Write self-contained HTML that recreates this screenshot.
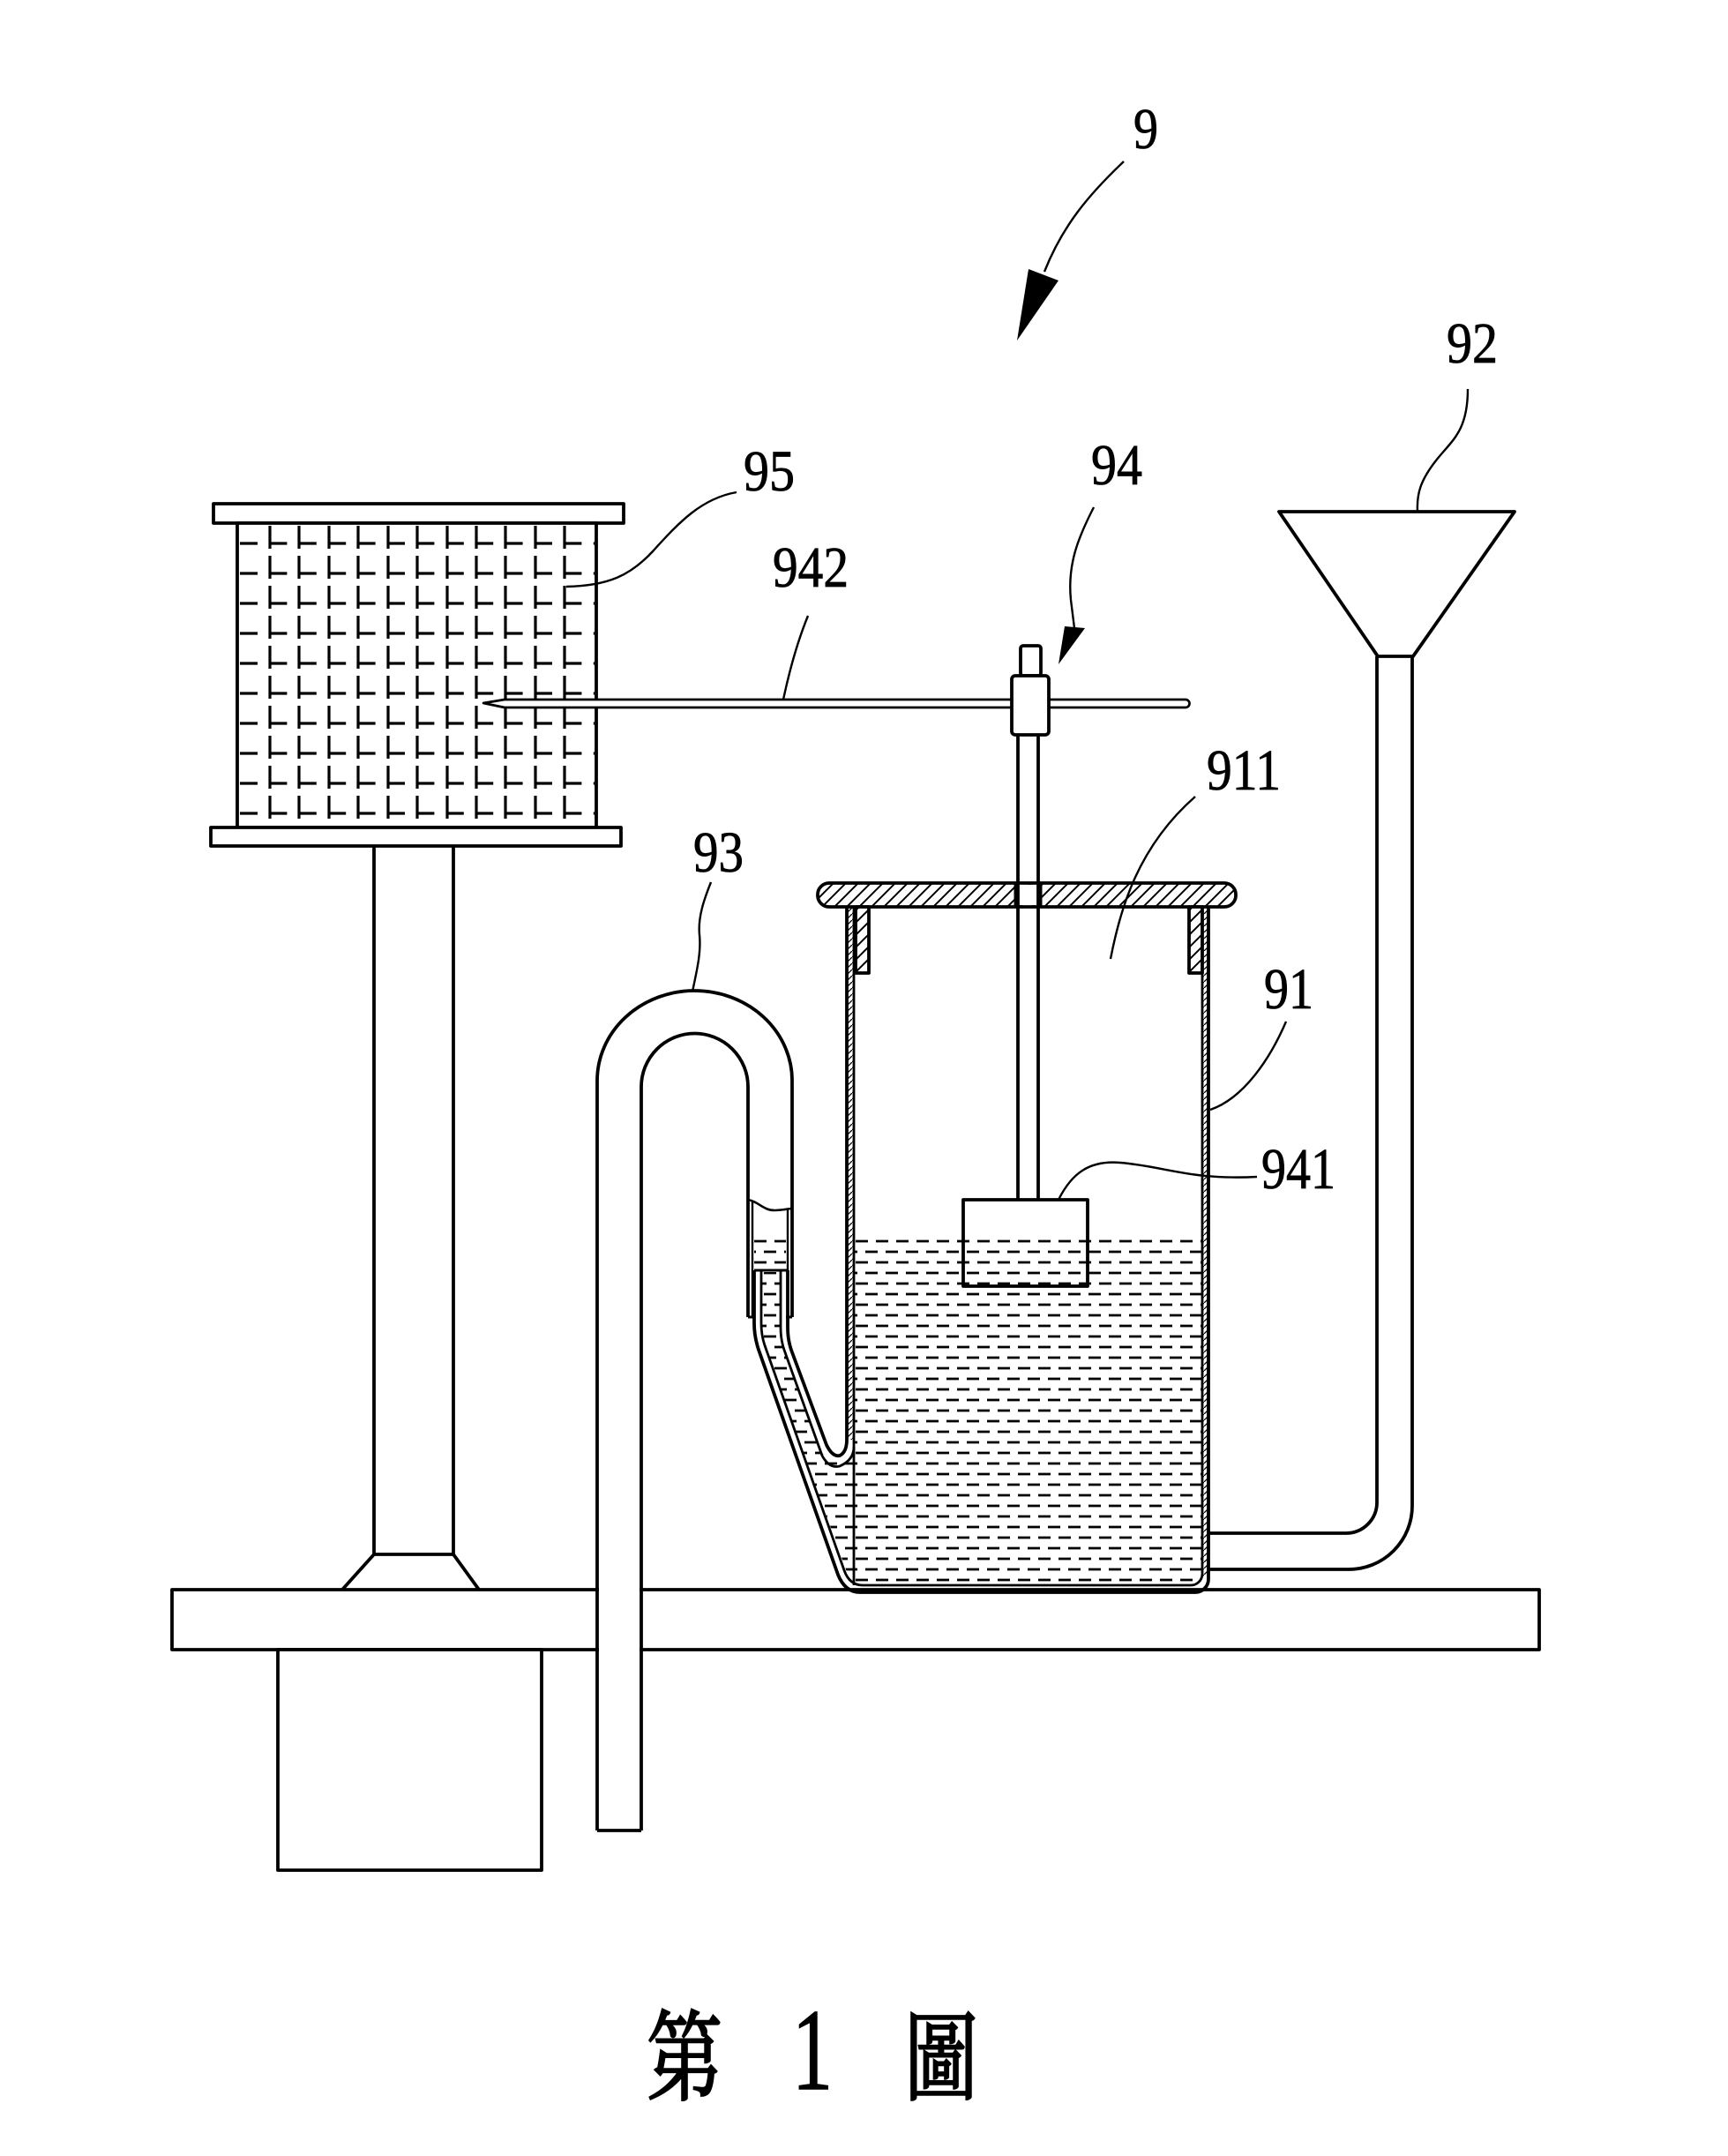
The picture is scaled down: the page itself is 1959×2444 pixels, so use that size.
<!DOCTYPE html>
<html>
<head>
<meta charset="utf-8">
<style>
html,body{margin:0;padding:0;background:#fff;}
body{width:1959px;height:2444px;overflow:hidden;}
svg{position:absolute;left:0;top:0;}
text{font-family:"Liberation Serif",serif;fill:#000;}
.cjk{font-family:"Liberation Serif","Noto Serif CJK SC","Noto Sans CJK TC",serif;}
</style>
</head>
<body>
<svg width="1959" height="2444" viewBox="0 0 1959 2444" xmlns="http://www.w3.org/2000/svg">
<defs>
  <pattern id="hatch" x="0" y="0" width="14" height="14" patternUnits="userSpaceOnUse">
    <rect width="14" height="14" fill="#fff"/>
    <path d="M-2,2 L2,-2 M0,14 L14,0 M12,16 L16,12" stroke="#000" stroke-width="2"/>
  </pattern>
  <pattern id="hatchs" x="0" y="0" width="7" height="7" patternUnits="userSpaceOnUse">
    <rect width="7" height="7" fill="#fff"/>
    <path d="M0,7 L7,0" stroke="#000" stroke-width="1.3"/>
  </pattern>
  <pattern id="liq" x="970" y="1401" width="46" height="24" patternUnits="userSpaceOnUse">
    <path d="M0 6h14M23 6h14M11 18h14M34 18h12M0 18h2" stroke="#000" stroke-width="2.8"/>
  </pattern>
</defs>

<g fill="none" stroke="#000" stroke-width="3.8" stroke-linejoin="round">

<!-- ===== Coil 95 ===== -->
<rect x="242" y="571" width="465" height="22" fill="#fff"/>
<rect x="269" y="593" width="407" height="345" fill="#fff"/>
<rect x="239" y="938" width="465" height="21" fill="#fff"/>
<g stroke-width="3.2" stroke-dasharray="20 13.4">
  <path d="M272,616H674M272,650H674M272,684H674M272,718H674M272,752H674M272,786H674M272,820H674M272,854H674M272,888H674M272,922H674"/>
</g>
<g stroke-width="3.2" stroke-dasharray="26 8">
  <path d="M306,596V936M339,596V936M373,596V936M406,596V936M440,596V936M473,596V936M507,596V936M540,596V936M573,596V936M607,596V936M640,596V936"/>
</g>

<!-- pole -->
<path d="M424,959V1762M514,959V1762M424,1762H514M424,1762L388,1802M514,1762L543,1802"/>

<!-- base plate -->
<rect x="195" y="1802" width="1550" height="68" fill="#fff"/>
<!-- box -->
<rect x="315" y="1870" width="299" height="250" fill="#fff"/>

<!-- ===== Needle 942 / clamp 94 ===== -->
<path d="M548,797 L572,793 H1147 V802 H572 Z" fill="#fff" stroke-width="2.7"/>
<path d="M1189,793 H1344 A4.5,4.5 0 0 1 1344,802 H1189" fill="#fff" stroke-width="2.7"/>
<rect x="1157" y="732" width="23" height="34" rx="3" fill="#fff"/>
<rect x="1147" y="766" width="42" height="67" rx="4" fill="#fff"/>
<!-- shaft -->
<path d="M1154,833V1360M1177,833V1360"/>

<!-- ===== Funnel 92 ===== -->
<path d="M1450,580 H1717 L1602,744 H1562 Z" fill="#fff"/>
<path d="M1561,744 V1703 A35,35 0 0 1 1526,1738 H1370"/>
<path d="M1601,744 V1707 A72,72 0 0 1 1529,1779 H1370"/>

<!-- ===== Liquid ===== -->
<rect x="969" y="1400" width="393" height="396" fill="url(#liq)" stroke="none"/>
<path d="M864,1442 H884 V1505 L889,1530 L931,1648 L969,1652 V1796 L976,1796 L960,1782 L868,1528 L864,1505 Z" fill="url(#liq)" stroke="none"/>
<rect x="855" y="1400" width="36" height="40" fill="url(#liq)" stroke="none"/>

<!-- ===== Container 91 ===== -->
<rect x="961" y="1028" width="6" height="604" fill="url(#hatchs)" stroke="none"/>
<rect x="1364" y="1028" width="5" height="760" fill="url(#hatchs)" stroke="none"/>
<path d="M893,1440 V1505 Q893,1520 898,1533 L937,1638 Q944,1652 952,1650 Q960,1646 960,1632 V1028"/>
<path d="M885,1440 V1505 Q885,1520 890,1533 L932,1650 Q940,1665 952,1662 Q968,1655 968,1640" stroke-width="2.8"/>
<path d="M968,1028 V1797" stroke-width="2.8"/>
<path d="M855,1440 V1500 Q855,1515 860,1530 L950,1785 Q958,1805 975,1805 H1355 A15,15 0 0 0 1370,1790 V1028"/>
<path d="M863,1440 V1500 Q863,1515 868,1528 L957,1780 Q963,1797 978,1797 H1350 A13,13 0 0 0 1363,1784 V1028" stroke-width="2.8"/>
<path d="M855,1440 H893" stroke-width="3"/>

<!-- lid -->
<rect x="927" y="1001" width="474" height="27" rx="13" fill="url(#hatch)"/>
<rect x="970" y="1028" width="15" height="75" fill="url(#hatch)"/>
<rect x="1348" y="1028" width="15" height="75" fill="url(#hatch)"/>
<rect x="1152" y="1003" width="27" height="23" fill="#fff" stroke="none"/>
<path d="M1151,1001V1028M1180,1001V1028" stroke-width="3"/>
<path d="M1154,999V1030M1177,999V1030"/>

<!-- float 941 -->
<rect x="1092" y="1360" width="141" height="98"/>

<!-- ===== Siphon 93 ===== -->
<rect x="679" y="1795" width="46" height="80" fill="#fff" stroke="none"/>
<path d="M677,2075 V1225 A110.5,102 0 0 1 898,1225 V1493"/>
<path d="M848,1493 V1232 A60.5,60.5 0 0 0 727,1232 V2075"/>
<path d="M677,2075 H727"/>
<path d="M853,1362 V1493 M893,1371 V1493" stroke-width="2.4"/>
<path d="M848,1493 H855 M891,1493 H898" stroke-width="3"/>
<path d="M848,1360 C860,1362 865,1372 878,1372 C888,1372 893,1370 898,1370" stroke-width="2.6"/>

<!-- ===== Leaders ===== -->
<g stroke-width="2.4">
  <path d="M1274,183 C1235,220 1205,255 1184,308"/>
  <path d="M1240,575 C1222,610 1210,640 1214,680 L1218,712"/>
  <path d="M1664,441 C1664,490 1645,500 1628,522 C1610,545 1606,560 1607,580"/>
  <path d="M642,665 C690,664 715,652 740,625 C770,592 795,565 835,558"/>
  <path d="M888,793 C895,760 905,725 916,698"/>
  <path d="M1259,1087 C1270,1030 1290,960 1355,903"/>
  <path d="M785,1124 C790,1100 795,1080 793,1060 C791,1040 798,1020 806,1000"/>
  <path d="M1372,1258 C1410,1245 1440,1200 1458,1158"/>
  <path d="M1200,1360 C1215,1330 1235,1315 1270,1318 C1320,1322 1350,1338 1425,1334"/>
</g>
</g>

<!-- arrowheads -->
<polygon points="1166,305 1200,318 1153,386" fill="#000"/>
<polygon points="1207,710 1230,712 1200,753" fill="#000"/>

<!-- ===== Labels ===== -->
<g font-size="66" stroke="#000" stroke-width="0.8">
  <text x="1285" y="168" textLength="28" lengthAdjust="spacingAndGlyphs">9</text>
  <text x="1640" y="411" textLength="58" lengthAdjust="spacingAndGlyphs">92</text>
  <text x="843" y="556" textLength="58" lengthAdjust="spacingAndGlyphs">95</text>
  <text x="1237" y="549" textLength="58" lengthAdjust="spacingAndGlyphs">94</text>
  <text x="876" y="665" textLength="86" lengthAdjust="spacingAndGlyphs">942</text>
  <text x="1368" y="895" textLength="84" lengthAdjust="spacingAndGlyphs">911</text>
  <text x="786" y="988" textLength="57" lengthAdjust="spacingAndGlyphs">93</text>
  <text x="1433" y="1143" textLength="56" lengthAdjust="spacingAndGlyphs">91</text>
  <text x="1430" y="1347" textLength="84" lengthAdjust="spacingAndGlyphs">941</text>
</g>

<!-- caption -->
<g stroke="#000" stroke-width="2.5">
<text class="cjk" x="733" y="2372" font-size="112" textLength="86" lengthAdjust="spacingAndGlyphs">第</text>
<text x="898" y="2368" font-size="132" textLength="46" lengthAdjust="spacingAndGlyphs" stroke-width="1.5">1</text>
<text class="cjk" x="1025" y="2372" font-size="110" textLength="84" lengthAdjust="spacingAndGlyphs">圖</text>
</g>
</svg>
</body>
</html>
